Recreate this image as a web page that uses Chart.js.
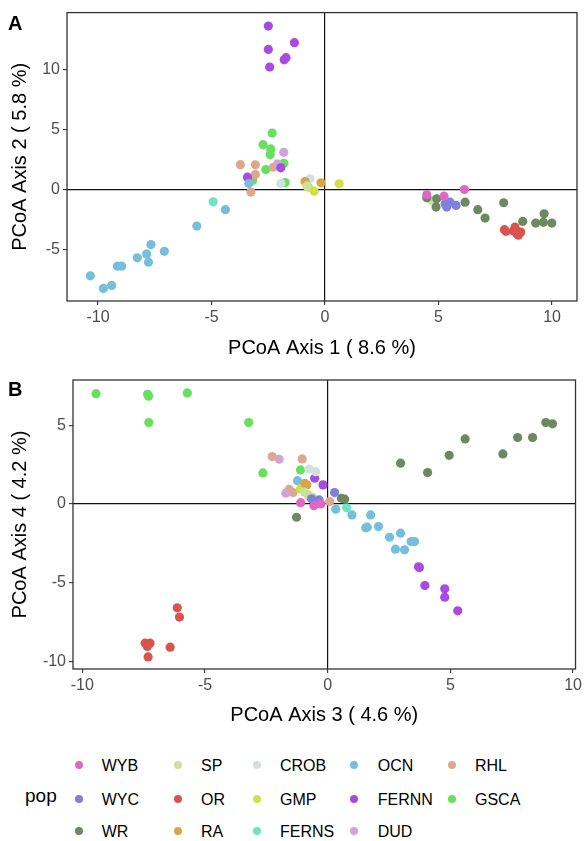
<!DOCTYPE html>
<html><head><meta charset="utf-8">
<script src="https://cdn.jsdelivr.net/npm/chart.js@4"></script>
<style>
body{margin:0;background:#fff;font-family:"Liberation Sans",Arial,sans-serif;}
#wrap{position:relative;width:585px;height:841px;overflow:hidden;background:#fff}
canvas{position:absolute;left:0}
.plab{position:absolute;font-weight:bold;font-size:20px;line-height:23px;color:#000}
.lg{position:absolute;font-size:16px;line-height:20px;color:#000;white-space:nowrap}
.dot{position:absolute;width:8px;height:8px;border-radius:50%}
</style></head>
<body>
<div id="wrap">
<canvas id="cA" width="585" height="370" style="top:0px;width:585px;height:370px"></canvas>
<canvas id="cB" width="585" height="380" style="top:360px;width:585px;height:380px"></canvas>
<div class="plab" style="left:8px;top:12px">A</div>
<div class="plab" style="left:8px;top:378px">B</div>
<div class="lg" style="left:25px;top:784px;font-size:19px;line-height:24px">pop</div>
<div id="legend"></div>
</div>
<script>
// ---- populations ----
const POPS = ['WYB','WYC','WR','SP','OR','RA','CROB','GMP','FERNS','OCN','FERNN','DUD','RHL','GSCA'];

// ---- Panel A: PCoA Axis 1 (x) vs Axis 2 (y) ----
const A_WYB   = [[4.48,-0.44],[5.24,-0.56],[6.14,0.0]];
const A_WYC   = [[5.29,-1.19],[5.36,-1.47],[5.77,-1.33],[5.51,-1.06]];
const A_WR    = [[4.48,-0.69],[4.92,-0.78],[4.89,-1.47],[6.17,-1.06],[6.73,-1.69],[7.05,-2.39],[7.87,-1.11],[8.71,-2.67],[9.28,-2.81],[9.65,-2.03],[9.99,-2.81],[9.62,-2.75]];
const A_SP    = [[4.70,-0.92],[-0.80,0.30]];
const A_OR    = [[7.90,-3.36],[8.37,-3.14],[8.52,-3.83],[8.62,-3.56],[8.30,-3.47],[7.97,-3.50],[8.45,-3.70]];
const A_RA    = [[-0.88,0.67],[-0.18,0.56]];
const A_CROB  = [[-1.95,0.50],[-0.66,0.89]];
const A_GMP   = [[-0.73,0.19],[-0.48,-0.14],[0.62,0.47]];
const A_FERNS = [[-4.93,-1.03]];
const A_OCN   = [[-3.36,0.50],[-4.39,-1.69],[-5.65,-3.06],[-7.67,-4.61],[-7.08,-5.17],[-7.86,-5.39],[-8.27,-5.72],[-7.78,-6.08],[-9.15,-6.42],[-8.96,-6.42],[-10.34,-7.22],[-9.40,-8.03],[-9.77,-8.28]];
const A_FERNN = [[-2.50,13.67],[-1.35,12.28],[-2.50,11.72],[-1.72,11.03],[-1.80,10.85],[-2.44,10.25],[-3.42,1.03],[-1.95,1.81]];
const A_DUD   = [[-1.82,3.11],[-2.10,2.14]];
const A_RHL   = [[-3.73,2.08],[-3.07,2.06],[-3.07,1.25],[-2.28,1.86],[-3.27,-0.22]];
const A_GSCA  = [[-2.33,4.72],[-2.73,3.75],[-2.39,3.39],[-2.42,2.92],[-2.61,1.67],[-1.81,2.19],[-3.19,0.75],[-1.76,0.58]];

// ---- Panel B: PCoA Axis 3 (x) vs Axis 4 (y) ----
const B_WYB   = [[-1.10,0.08],[-0.56,-0.11],[-0.28,0.00]];
const B_WYC   = [[-0.66,0.32],[-0.35,0.25],[0.28,0.72],[-0.50,0.15]];
const B_WR    = [[2.97,2.59],[4.07,1.99],[4.95,3.09],[5.60,4.13],[7.14,3.18],[7.74,4.22],[8.35,4.22],[8.89,5.17],[9.16,5.09],[0.56,0.36],[0.69,0.30],[-1.27,-0.85]];
const B_SP    = [[-0.95,0.75],[-0.70,0.45]];
const B_OR    = [[-6.13,-6.61],[-6.04,-7.20],[-7.44,-8.86],[-7.24,-8.86],[-7.35,-9.07],[-7.32,-9.73],[-6.42,-9.11]];
const B_RA    = [[-0.93,1.31],[-0.85,1.20]];
const B_CROB  = [[-0.76,2.22],[-0.49,2.05]];
const B_GMP   = [[-1.11,0.95],[-0.80,0.57],[-0.62,0.40]];
const B_FERNS = [[0.77,-0.25]];
const B_OCN   = [[-1.23,1.48],[0.33,-0.34],[0.99,-0.70],[1.75,-0.70],[1.61,-1.48],[1.55,-1.52],[2.07,-1.44],[2.52,-2.12],[2.97,-1.86],[2.76,-2.88],[3.13,-2.92],[3.40,-2.39],[3.54,-2.39]];
const B_FERNN = [[3.74,-4.05],[3.70,-4.00],[3.96,-5.19],[4.77,-5.40],[4.77,-5.93],[5.30,-6.80],[-0.53,1.63],[-0.19,1.21]];
const B_DUD   = [[-1.98,2.84],[-1.71,0.68]];
const B_RHL   = [[-2.26,3.01],[-1.04,2.86],[-1.57,0.93],[-1.41,0.72],[0.08,0.15]];
const B_GSCA  = [[-9.44,7.01],[-7.34,6.97],[-7.30,6.85],[-5.72,7.06],[-7.29,5.17],[-3.22,5.17],[-2.64,1.97],[-1.11,2.16]];

// ---- ticks and axis limits ----
const A_xTicks = [-10,-5,0,5,10];
const A_yTicks = [-5,0,5,10];
const B_xTicks = [-10,-5,0,5,10];
const B_yTicks = [-10,-5,0,5];
const A_xLim = [-11.37,11.1];
const A_yLim = [-9.33,14.8];
const B_xLim = [-10.38,10.1];
const B_yLim = [-10.5,7.88];

// ---- styles ----
const COLORS = {
  WYB:'#e067c3', WYC:'#7f7fdc', WR:'#6b8a5f', SP:'#c9e19b', OR:'#d85450', RA:'#dba545',
  CROB:'#d3e1dc', GMP:'#cfe048', FERNS:'#6ee4c2', OCN:'#75bfdd', FERNN:'#a94ae1',
  DUD:'#d2a3d6', RHL:'#dfa88c', GSCA:'#67e05f'
};
const DATA_A = {WYB:A_WYB,WYC:A_WYC,WR:A_WR,SP:A_SP,OR:A_OR,RA:A_RA,CROB:A_CROB,GMP:A_GMP,FERNS:A_FERNS,OCN:A_OCN,FERNN:A_FERNN,DUD:A_DUD,RHL:A_RHL,GSCA:A_GSCA};
const DATA_B = {WYB:B_WYB,WYC:B_WYC,WR:B_WR,SP:B_SP,OR:B_OR,RA:B_RA,CROB:B_CROB,GMP:B_GMP,FERNS:B_FERNS,OCN:B_OCN,FERNN:B_FERNN,DUD:B_DUD,RHL:B_RHL,GSCA:B_GSCA};

const FONT = '"Liberation Sans", Arial, sans-serif';

const boxPlugin = {
  id:'box',
  afterDraw(chart){
    const {ctx, chartArea:a} = chart;
    ctx.save();
    ctx.strokeStyle = '#333';
    ctx.lineWidth = 1.3;
    ctx.strokeRect(a.left, a.top, a.right-a.left, a.bottom-a.top);
    ctx.restore();
  }
};

function makeChart(id, data, xTicks, yTicks, xLim, yLim, xTitle, yTitle, lay){
  const datasets = POPS.map(p => ({
    label: p,
    data: data[p].map(d => ({x:d[0], y:d[1]})),
    backgroundColor: COLORS[p],
    borderWidth: 0,
    pointRadius: 4.6,
    pointHoverRadius: 4.6
  }));
  const gridCommon = {
    drawOnChartArea: true,
    drawTicks: true,
    tickLength: 4,
    tickColor: '#333',
    tickWidth: 1.1,
    lineWidth: 1.2,
    color: ctx => (ctx.tick && ctx.tick.value === 0) ? '#111' : 'rgba(0,0,0,0)'
  };
  return new Chart(document.getElementById(id), {
    type: 'scatter',
    data: {datasets},
    plugins: [boxPlugin],
    options: {
      responsive: false,
      animation: false,
      events: [],
      layout: {padding: {left:0, right:lay.padRight, top:lay.padTop, bottom:0}},
      plugins: {legend:{display:false}, tooltip:{enabled:false}},
      scales: {
        x: {
          type:'linear', min:xLim[0], max:xLim[1],
          afterBuildTicks: s => { s.ticks = xTicks.map(v => ({value:v})); },
          afterFit: s => { s.height = lay.xAxisH; },
          border: {display:false},
          grid: gridCommon,
          ticks: {color:'#4d4d4d', font:{family:FONT, size:16}, padding:3, maxRotation:0},
          title: {display:true, text:xTitle, color:'#000', font:{family:FONT, size:20}, padding:{top:0, bottom:lay.xTitlePad}}
        },
        y: {
          type:'linear', min:yLim[0], max:yLim[1],
          afterBuildTicks: s => { s.ticks = yTicks.map(v => ({value:v})); },
          afterFit: s => { s.width = lay.yAxisW; },
          border: {display:false},
          grid: gridCommon,
          ticks: {color:'#4d4d4d', font:{family:FONT, size:16}, padding:3},
          title: {display:true, text:yTitle, color:'#000', font:{family:FONT, size:20}, padding:{top:8, bottom:0}}
        }
      }
    }
  });
}

makeChart('cA', DATA_A, A_xTicks, A_yTicks, A_xLim, A_yLim,
  'PCoA Axis 1 ( 8.6 %)', 'PCoA Axis 2 ( 5.8 %)',
  {padTop:11, padRight:8, xAxisH:69, yAxisW:67, xTitlePad:10});
makeChart('cB', DATA_B, B_xTicks, B_yTicks, B_xLim, B_yLim,
  'PCoA Axis 3 ( 4.6 %)', 'PCoA Axis 4 ( 4.2 %)',
  {padTop:20, padRight:8, xAxisH:71, yAxisW:73, xTitlePad:13});

// ---- legend (HTML, column-major as in the reference) ----
const LEG_ROWS = 3;
const legX = [79.3, 178.3, 256.7, 354.3, 452.3];
const legTX = [101.7, 201, 280, 377.7, 475];
const legY = [765, 799, 831];
const lg = document.getElementById('legend');
POPS.forEach((p,i) => {
  const c = Math.floor(i / LEG_ROWS), r = i % LEG_ROWS;
  const d = document.createElement('div');
  d.className = 'dot';
  d.style.left = (legX[c]-4) + 'px';
  d.style.top = (legY[r]-4) + 'px';
  d.style.background = COLORS[p];
  lg.appendChild(d);
  const t = document.createElement('div');
  t.className = 'lg';
  t.style.left = legTX[c] + 'px';
  t.style.top = (legY[r]-9.5) + 'px';
  t.textContent = p;
  lg.appendChild(t);
});
</script>
</body></html>
